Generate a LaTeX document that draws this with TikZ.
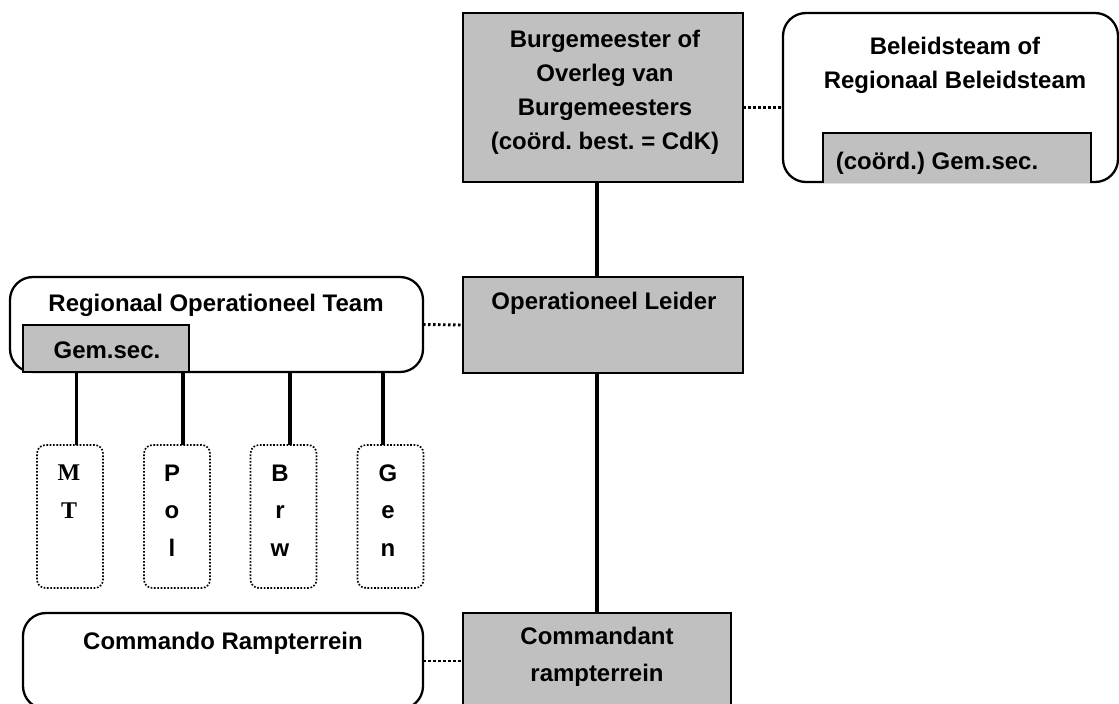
\documentclass[tikz,border=0pt]{standalone}
\usepackage{fontspec}
\setmainfont{Liberation Sans}
\newfontfamily\timesfont{Liberation Serif}
\usepackage{tikz}

\definecolor{boxgray}{HTML}{C0C0C0}
\frenchspacing

\begin{document}
\begin{tikzpicture}[x=0.48pt,y=-0.48pt,
    every node/.style={outer sep=0pt, inner sep=0pt},
    graybox/.style={draw, fill=boxgray, line width=1.1pt},
    roundbox/.style={draw, rounded corners=11pt, line width=1.1pt},
    unitbox/.style={draw, rounded corners=4pt, line width=0.8pt, dash pattern=on 0.8pt off 0.8pt,
        minimum width=31.68pt, minimum height=68.64pt},
    txt/.style={font=\bfseries\fontsize{11.5}{16.3}\selectfont, align=center},
    lettertxt/.style={font=\bfseries\fontsize{11.5}{18}\selectfont, align=center},
    conn/.style={line width=1.5pt},
    dotconn/.style={line width=1.4pt, dash pattern=on 1.2pt off 1.2pt}]
    \useasboundingbox (0,0) rectangle (1119,703);
    \clip (0,0) rectangle (1119,703);

    % top row
    \node[graybox, minimum width=134.4pt, minimum height=81.12pt] (burg) at (603,97.5) {};
    \node[roundbox, minimum width=160.8pt, minimum height=81.12pt] (beleid) at (950.5,97.5) {};
    \node[fill=boxgray, minimum width=128.64pt, minimum height=24pt] (gemsecbt) at (957,158) {};
    \draw[line width=1.1pt] (gemsecbt.south west) |- (gemsecbt.north east) -- (gemsecbt.south east);

    % middle row
    \node[graybox, minimum width=134.4pt, minimum height=46.08pt] (ol) at (603,325) {};
    \node[roundbox, minimum width=198.24pt, minimum height=45.6pt] (rot) at (216.5,324.5) {};
    \node[graybox, minimum width=79.68pt, minimum height=22.56pt] (gemsecrot) at (106,348.5) {};

    \node[unitbox] (mt) at (70,516.5) {};
    \node[unitbox] (pol) at (177,516.5) {};
    \node[unitbox] (brw) at (283.5,516.5) {};
    \node[unitbox] (gen) at (390.5,516.5) {};

    % bottom row
    \node[roundbox, minimum width=192pt, minimum height=46.08pt] (cdr) at (223,661) {};
    \node[graybox, minimum width=128.64pt, minimum height=46.08pt] (cdt) at (597,661) {};

    % texts
    \node[txt] (burgtxt) at (605,92) {Burgemeester of\\Overleg van\\Burgemeesters\\(coörd. best. = CdK)};
    \node[txt] (beleidtxt) at (955,65) {Beleidsteam of\\Regionaal Beleidsteam};
    \node[txt] (gemsecbttxt) at (937,163) {(coörd.) Gem.sec.};
    \node[txt] (oltxt) at (604,303) {Operationeel Leider};
    \node[txt] (rottxt) at (216,305) {Regionaal Operationeel Team};
    \node[txt] (gemsecrottxt) at (107,350) {Gem.sec.};
    \node[lettertxt, font=\timesfont\bfseries\fontsize{11.5}{18}\selectfont] (mttxt) at (69,491.5) {M\\T};
    \node[lettertxt] (poltxt) at (172,510.5) {P\\o\\l};
    \node[lettertxt] (brwtxt) at (280,510.5) {B\\r\\w};
    \node[lettertxt] (gentxt) at (388,510.5) {G\\e\\n};
    \node[txt] (cdrtxt) at (223,643) {Commando Rampterrein};
    \node[txt, font=\bfseries\fontsize{11.5}{18}\selectfont] (cdttxt) at (597,657) {Commandant\\rampterrein};

    % connectors
    \draw[conn] (burg.south -| cdt.north) -- (ol.north -| cdt.north);
    \draw[conn] (ol.south -| cdt.north) -- (cdt.north);
    \draw[dotconn] ([yshift=-4.8pt]burg.east) -- ([yshift=-4.8pt]beleid.west);
    \draw[dotconn] (rot.east) -- (ol.west);
    \draw[dotconn] (cdr.east) -- (cdt.west);
    \draw[conn] ([xshift=3.3pt]mt.north) -- ([xshift=3.3pt]mt.north |- rot.south);
    \draw[conn] ([xshift=2.9pt]pol.north) -- ([xshift=2.9pt]pol.north |- rot.south);
    \draw[conn] ([xshift=3.1pt]brw.north) -- ([xshift=3.1pt]brw.north |- rot.south);
    \draw[conn] ([xshift=-3.6pt]gen.north) -- ([xshift=-3.6pt]gen.north |- rot.south);
\end{tikzpicture}
\end{document}
